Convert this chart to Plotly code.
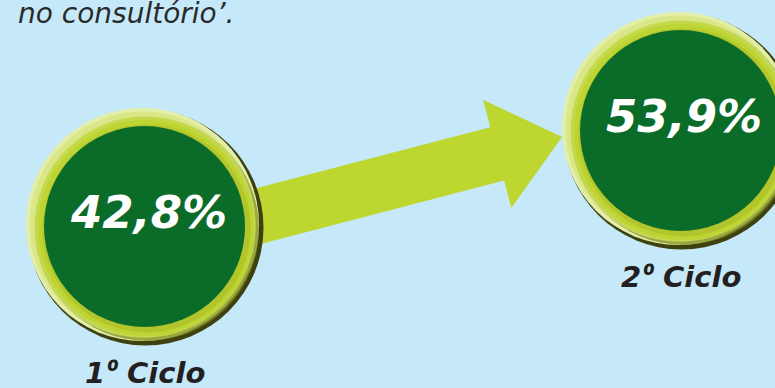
import math
import plotly.graph_objects as go

# ---- data -------------------------------------------------------------
cycles = ["1º Ciclo", "2º Ciclo"]
values = [42.8, 53.9]
caption = "no consultório’."

# ---- canvas / axes -----------------------------------------------------
W, H = 775, 388
X_RANGE = [-0.2687, 1.1772]
Y_RANGE = [24.07, 68.93]
SX = W / (X_RANGE[1] - X_RANGE[0])      # px per x unit
SY = H / (Y_RANGE[1] - Y_RANGE[0])      # px per y unit

BG = "#C6E9F9"
DARK_GREEN = "#0B6C2A"
LIME = "#BED630"
TEXT_DARK = "#231F20"
FONT = "DejaVu Sans"

xs = list(range(len(cycles)))


def shift(x, y, dx_px, dy_px):
    """Offset a data point by a pixel amount (dy positive = down)."""
    return x + dx_px / SX, y - dy_px / SY


def ordinal_label(text):
    # draw the ordinal indicator with a face that shows it without a bar
    return text.replace(
        "º", '<span style="font-family:Open Sans;font-size:32px">º</span>')


fig = go.Figure()

# ---- arrow from the first cycle to the second --------------------------
R_OUT = 118
ang = math.radians(14.6)
d = (math.cos(ang), -math.sin(ang))          # pixel direction (y down)
n = (math.sin(ang), math.cos(ang))
tip = (-R_OUT, 7)                             # relative to 2nd circle centre
shaft_half, head_half, head_len, total_len = 27.5, 56, 67, 430

base = (tip[0] - d[0] * head_len, tip[1] - d[1] * head_len)
tail = (tip[0] - d[0] * total_len, tip[1] - d[1] * total_len)
poly_px = [
    (tail[0] - n[0] * shaft_half, tail[1] - n[1] * shaft_half),
    (base[0] - n[0] * shaft_half, base[1] - n[1] * shaft_half),
    (base[0] - n[0] * head_half, base[1] - n[1] * head_half),
    tip,
    (base[0] + n[0] * head_half, base[1] + n[1] * head_half),
    (base[0] + n[0] * shaft_half, base[1] + n[1] * shaft_half),
    (tail[0] + n[0] * shaft_half, tail[1] + n[1] * shaft_half),
]
poly = [shift(xs[1], values[1], p[0], p[1]) for p in poly_px]
poly.append(poly[0])
fig.add_trace(go.Scatter(
    x=[p[0] for p in poly], y=[p[1] for p in poly],
    mode="lines", fill="toself", fillcolor=LIME,
    line=dict(width=0, color=LIME), hoverinfo="skip", showlegend=False,
))

# ---- shaded rings (stacked, slightly offset discs give the bevel) ------
ring_layers = [
    # radius, dx, dy, colour, opacity
    (118.0, 1.5, 1.5, "#3E410F", 1.0),
    (116.5, -1.5, -1.5, "#E3EEA8", 1.0),
    (112.0, 3.0, 3.0, "#7A8A18", 0.7),
    (113.0, -1.5, -1.5, "#D4E47C", 0.7),
    (110.5, 1.0, 1.0, "#C4D944", 0.85),
    (108.0, 2.0, 2.0, "#BDD433", 1.0),
    (104.0, 2.5, 2.5, "#A3B522", 0.45),
    (100.5, 0.5, 0.5, DARK_GREEN, 1.0),
]
for r, dx, dy, col, op in ring_layers:
    pts = [shift(x, v, dx, dy) for x, v in zip(xs, values)]
    fig.add_trace(go.Scatter(
        x=[p[0] for p in pts], y=[p[1] for p in pts], mode="markers",
        marker=dict(size=2 * r, color=col, opacity=op, line=dict(width=0)),
        hoverinfo="skip", showlegend=False,
    ))

# ---- value labels and cycle names --------------------------------------
for x, v, name in zip(xs, values, cycles):
    fig.add_annotation(
        x=x, y=v, xref="x", yref="y", showarrow=False,
        text=f"{v:.1f}".replace(".", ",") + "%",
        xshift=4, yshift=14,
        font=dict(family=FONT, size=45, color="white",
                  weight="bold", style="italic"),
    )
    fig.add_annotation(
        x=x, y=v, xref="x", yref="y", showarrow=False,
        text=ordinal_label(name),
        xshift=1, yshift=-144,
        font=dict(family=FONT, size=29, color=TEXT_DARK,
                  weight="bold", style="italic"),
    )

fig.add_annotation(
    x=0, y=1, xref="paper", yref="paper", xanchor="left", yanchor="bottom",
    xshift=16, yshift=-32, showarrow=False, text=caption,
    font=dict(family=FONT, size=28, color="#2A2A2A", style="italic"),
)

fig.update_xaxes(range=X_RANGE, visible=False, fixedrange=True)
fig.update_yaxes(range=Y_RANGE, visible=False, fixedrange=True)
fig.update_layout(
    width=W, height=H, margin=dict(l=0, r=0, t=0, b=0, pad=0),
    paper_bgcolor=BG, plot_bgcolor=BG, showlegend=False,
)

fig.write_html("out.html")
